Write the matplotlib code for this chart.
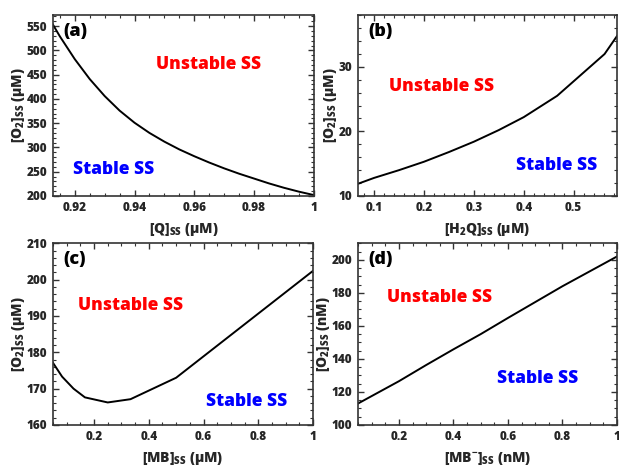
import matplotlib
matplotlib.use("Agg")
import matplotlib.pyplot as plt
from matplotlib.ticker import MultipleLocator, FixedLocator

plt.rcParams['font.family'] = ['Open Sans', 'DejaVu Sans']
plt.rcParams['font.weight'] = 800
plt.rcParams['axes.labelweight'] = 800
plt.rcParams['mathtext.fontset'] = 'custom'
plt.rcParams['mathtext.rm'] = 'Open Sans:weight=heavy'
plt.rcParams['mathtext.it'] = 'Open Sans:weight=heavy'
plt.rcParams['mathtext.bf'] = 'Open Sans:weight=heavy'

# (a) O2 vs Q
q_ss = [0.9127, 0.915, 0.92, 0.925, 0.93, 0.935, 0.94, 0.945, 0.95, 0.955,
        0.96, 0.965, 0.97, 0.975, 0.98, 0.985, 0.99, 0.995, 1.0]
o2_a = [553, 529, 482, 441, 406, 376, 351, 330, 312, 296,
        282, 269, 257, 246, 236, 226, 217, 209, 202]

# (b) O2 vs H2Q
h2q_ss = [0.068, 0.1, 0.15, 0.2, 0.25, 0.3, 0.35, 0.4, 0.467, 0.562, 0.587]
o2_b = [11.9, 12.8, 14.0, 15.3, 16.8, 18.4, 20.2, 22.2, 25.5, 31.96, 34.75]

# (c) O2 vs MB
mb_ss = [0.05, 0.0833, 0.125, 0.1667, 0.25, 0.3333, 0.5, 1.0]
o2_c = [177.1, 173.3, 170.0, 167.6, 166.2, 167.1, 173.0, 202.4]

# (d) O2 vs MB-
mbm_ss = [0.05, 0.1, 0.2, 0.3, 0.4, 0.5, 0.6, 0.7, 0.8, 0.9, 1.0]
o2_d = [113.0, 117.5, 126.5, 136.3, 145.8, 155.0, 164.8, 174.4, 184.0, 193.0, 202.0]

txt = '#262626'
fig = plt.figure(figsize=(6.19, 4.66), dpi=100)

ax_a = fig.add_axes([0.0856, 0.5794, 0.4212, 0.3884])
ax_b = fig.add_axes([0.5784, 0.5794, 0.4184, 0.3884])
ax_c = fig.add_axes([0.0856, 0.088, 0.4200, 0.3900])
ax_d = fig.add_axes([0.5784, 0.088, 0.4184, 0.3900])

panels = [
    (ax_a, q_ss, o2_a, (0.9127, 1.0), (200, 573), r'[Q]$_{\mathrm{SS}}$ (μM)', r'[O$_{\mathrm{2}}$]$_{\mathrm{SS}}$ (μM)',
     '(a)', (0.595, 0.729), (0.232, 0.144), [0.92, 0.94, 0.96, 0.98, 1.0], 0.005, 50, 10,
     ['0.92', '0.94', '0.96', '0.98', '1']),
    (ax_b, h2q_ss, o2_b, (0.0678, 0.587), (10, 38), r'[H$_{\mathrm{2}}$Q]$_{\mathrm{SS}}$ (μM)', r'[O$_{\mathrm{2}}$]$_{\mathrm{SS}}$ (μM)',
     '(b)', (0.323, 0.604), (0.767, 0.171), [0.1, 0.2, 0.3, 0.4, 0.5], 0.02, 10, 2,
     ['0.1', '0.2', '0.3', '0.4', '0.5']),
    (ax_c, mb_ss, o2_c, (0.05, 1.0), (160, 210), r'[MB]$_{\mathrm{SS}}$ (μM)', r'[O$_{\mathrm{2}}$]$_{\mathrm{SS}}$ (μM)',
     '(c)', (0.299, 0.66), (0.746, 0.132), [0.2, 0.4, 0.6, 0.8, 1.0], 0.05, 10, 2,
     ['0.2', '0.4', '0.6', '0.8', '1']),
    (ax_d, mbm_ss, o2_d, (0.05, 1.0), (100, 210), r'[MB$^{\mathrm{-}}$]$_{\mathrm{SS}}$ (nM)', r'[O$_{\mathrm{2}}$]$_{\mathrm{SS}}$ (nM)',
     '(d)', (0.314, 0.704), (0.695, 0.257), [0.2, 0.4, 0.6, 0.8, 1.0], 0.05, 20, 5,
     ['0.2', '0.4', '0.6', '0.8', '1']),
]

for ax, x, y, xl, yl, xlab, ylab, tag, upos, spos, xt, xmin, ymaj, ymin, xtl in panels:
    ax.plot(x, y, color='black', lw=1.4)
    ax.set_xlim(*xl)
    ax.set_ylim(*yl)
    ax.xaxis.set_major_locator(FixedLocator(xt))
    ax.set_xticklabels(xtl)
    ax.xaxis.set_minor_locator(MultipleLocator(xmin))
    ax.yaxis.set_major_locator(MultipleLocator(ymaj))
    ax.yaxis.set_minor_locator(MultipleLocator(ymin))
    ax.tick_params(which='both', direction='in', top=True, right=True,
                   labelsize=8.5, colors='#333333', labelcolor=txt, pad=4)
    ax.tick_params(which='major', length=4, width=1)
    ax.tick_params(which='minor', length=2.2, width=0.8)
    for s in ax.spines.values():
        s.set_linewidth(1.2)
        s.set_color('#333333')
    ax.set_xlabel(xlab, fontsize=10, color=txt, labelpad=5)
    ax.set_ylabel(ylab, fontsize=10, color=txt, labelpad=0)
    ax.text(0.04, 0.955, tag, transform=ax.transAxes, ha='left', va='top',
            fontsize=13, color='black')
    ax.text(upos[0], upos[1], 'Unstable SS', transform=ax.transAxes, ha='center',
            va='center', fontsize=12.5, color='#ff0000')
    ax.text(spos[0], spos[1], 'Stable SS', transform=ax.transAxes, ha='center',
            va='center', fontsize=12.5, color='#0000ff')

fig.savefig('out.png', dpi=100)
